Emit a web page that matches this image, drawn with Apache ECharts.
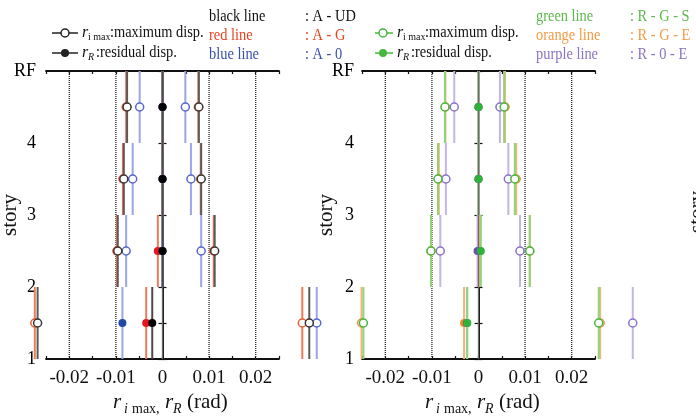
<!DOCTYPE html>
<html>
<head>
<meta charset="utf-8">
<script src="https://cdn.jsdelivr.net/npm/echarts@6/dist/echarts.min.js"></script>
<style>
html, body { margin: 0; padding: 0; background: #fff; }
#chart { width: 696px; height: 419px; }
</style>
</head>
<body>
<div id="chart"></div>
<script>
// each mark spans one story: floor -> floor + 1, marker at mid height
const storyFloors = [1, 2, 3, 4];
const storyLabels = { 1: '1', 2: '2', 3: '3', 4: '4', 5: 'RF' };
const gridXs = [-0.02, -0.01, 0.01, 0.02];
const zeroX = [0];

// left panel: A-UD (black), A-G (red), A-0 (blue)
const audMin = [-0.0268, -0.0096, -0.0083, -0.0076];
const audMax = [0.0315, 0.0112, 0.0083, 0.0078];
const audRes = [-0.0022, 0, 0, 0];
const agMin = [-0.0274, -0.0098, -0.0085, -0.0078];
const agMax = [0.0300, 0.0110, 0.0082, 0.0077];
const agRes = [-0.0035, -0.0010, 0, 0];
const a0Min = [null, -0.0078, -0.0064, -0.0049];
const a0Max = [0.0331, 0.0083, 0.0061, 0.0049];
const a0Res = [-0.0086, 0, 0, 0];

// right panel: R-G-S (green), R-G-E (orange), R-0-E (purple)
const rgsMin = [-0.0247, -0.0102, -0.0087, -0.0072];
const rgsMax = [0.0258, 0.0110, 0.0078, 0.0055];
const rgsRes = [-0.0024, 0.0005, 0, 0];
const rgeMin = [-0.0251, -0.0102, -0.0085, -0.0071];
const rgeMax = [0.0261, 0.0110, 0.0081, 0.0057];
const rgeRes = [-0.0031, 0.0003, 0, 0];
const r0eMin = [null, -0.0082, -0.0070, -0.0052];
const r0eMax = [0.0331, 0.0089, 0.0064, 0.0046];
const r0eRes = [-0.0025, -0.0002, 0, 0];

const FONT = '"Liberation Serif", "DejaVu Serif", serif';
const INK = '#111';

// two series per set: the story-long vertical lines, then the markers above them
function stick(g, xs, kind, lineColor, markColor, z) {
  const data = [];
  xs.forEach(function (v, i) { if (v != null) data.push([v, storyFloors[i]]); });
  const common = { type: 'custom', xAxisIndex: g * 2, yAxisIndex: g * 2, data: data, clip: false, silent: true };
  return [
    Object.assign({}, common, {
      z: z,
      renderItem: function (params, api) {
        const x = api.value(0), s = api.value(1);
        const p0 = api.coord([x, s]), p1 = api.coord([x, s + 1]);
        return { type: 'line', shape: { x1: p0[0], y1: p0[1], x2: p1[0], y2: p1[1] },
          style: { stroke: lineColor, lineWidth: 2 } };
      }
    }),
    Object.assign({}, common, {
      z: z + 10,
      renderItem: function (params, api) {
        const pm = api.coord([api.value(0), api.value(1) + 0.5]);
        return { type: 'circle', shape: { cx: pm[0], cy: pm[1], r: 4 },
          style: kind === 'open' ? { fill: '#fff', stroke: markColor, lineWidth: 1.5 } : { fill: markColor } };
      }
    })
  ];
}

function vlines(g, xs, style, z) {
  return {
    type: 'custom', xAxisIndex: g * 2, yAxisIndex: g * 2,
    data: xs.map(function (v) { return [v]; }), silent: true, z: z,
    renderItem: function (params, api) {
      const x = api.value(0);
      const p0 = api.coord([x, 1]), p1 = api.coord([x, 5]);
      return { type: 'line', shape: { x1: p0[0], y1: p0[1], x2: p1[0], y2: p1[1] }, style: style };
    }
  };
}

function xAxes(g) {
  const base = {
    gridIndex: g, type: 'value', min: -0.025, max: 0.025, interval: 0.005,
    axisLine: { show: true, lineStyle: { color: INK, width: 1.8 } },
    axisTick: { show: true, inside: true, length: 3, lineStyle: { color: INK, width: 1.2 } },
    splitLine: { show: false }
  };
  return [
    Object.assign({}, base, {
      position: 'bottom',
      axisLabel: {
        fontSize: 19, fontFamily: FONT, color: INK, margin: 10,
        formatter: function (v) {
          const k = Math.round(v * 200);
          if (k % 2 !== 0) return '';
          return k === 0 ? '0' : (k / 200).toFixed(2);
        }
      }
    }),
    Object.assign({}, base, { position: 'top', axisLabel: { show: false } })
  ];
}

function yAxes(g, margin) {
  const base = {
    gridIndex: g, type: 'value', min: 1, max: 5, interval: 0.5,
    axisLine: { show: true, lineStyle: { color: INK, width: 1.8 } },
    axisTick: { show: true, inside: true, length: 4, lineStyle: { color: INK, width: 1.2 } },
    splitLine: { show: false }
  };
  return [
    Object.assign({}, base, {
      position: 'left',
      name: 'story', nameLocation: 'middle', nameGap: 25, nameMoveOverlap: false,
      nameTextStyle: { fontSize: 21, fontFamily: FONT, color: INK },
      axisLabel: {
        fontSize: 18, fontFamily: FONT, color: '#000', margin: margin,
        formatter: function (v) { return Number.isInteger(v) ? storyLabels[v] : ''; }
      }
    }),
    Object.assign({}, base, { position: 'right', axisLabel: { show: false } })
  ];
}

const gridStyle = { stroke: '#222', lineWidth: 1.3, lineDash: [1, 1] };
const zeroStyle = { stroke: '#6a6a6a', lineWidth: 1.3 };

function txt(x, y, text, size, color, opts) {
  opts = opts || {};
  return {
    type: 'text', x: x, y: y, scaleX: opts.scaleX || 1, rotation: opts.rotation || 0,
    style: {
      text: text, fill: color, align: opts.align || 'left', verticalAlign: 'middle',
      font: (opts.italic ? 'italic ' : '') + size + 'px ' + FONT
    }
  };
}

function legendKey(x1, x2, cx, y, color, open) {
  return [
    { type: 'line', shape: { x1: x1, y1: y, x2: x2, y2: y }, style: { stroke: color, lineWidth: 1.5 } },
    { type: 'circle', shape: { cx: cx, cy: y, r: 4 },
      style: open ? { fill: '#fff', stroke: color, lineWidth: 1.5 } : { fill: color } }
  ];
}

const SX = 0.9;
function legendBlock(dx, x1, x2, cx, color) {
  const tx = 82 + dx;
  return [].concat(
    legendKey(x1, x2, cx, 33, color, true),
    legendKey(x1, x2, cx, 53, color, false),
    [
      txt(tx, 33, 'r', 16, INK, { italic: true }),
      txt(tx + 6, 37, 'i max', 10, INK),
      txt(tx + 28, 33, ':maximum disp.', 16, INK, { scaleX: SX }),
      txt(tx, 53, 'r', 16, INK, { italic: true }),
      txt(tx + 6, 57, 'R', 10, INK, { italic: true }),
      txt(tx + 14, 53, ':residual disp.', 16, INK, { scaleX: SX })
    ]
  );
}

function caseLegend(x, xc, rows) {
  const out = [];
  rows.forEach(function (r, i) {
    const y = 17 + i * 19;
    out.push(txt(x, y, r[0], 16, r[2], { scaleX: SX }));
    out.push(txt(xc, y, r[1], 16, r[2], { scaleX: SX }));
  });
  return out;
}

function xTitle(dx) {
  return [
    txt(113 + dx, 402, 'r', 21, INK, { italic: true }),
    txt(124 + dx, 409, 'i', 14, INK, { italic: true }),
    txt(132 + dx, 409, 'max,', 14, INK),
    txt(165 + dx, 402, 'r', 21, INK, { italic: true }),
    txt(173 + dx, 409, 'R', 14, INK, { italic: true }),
    txt(187 + dx, 402, '(rad)', 21, INK)
  ];
}

const chart = echarts.init(document.getElementById('chart'));
chart.setOption({
  backgroundColor: '#fff',
  animation: false,
  grid: [
    { left: 46, top: 71, width: 233, height: 288, outerBoundsMode: 'none', containLabel: false },
    { left: 362, top: 71, width: 233, height: 288, outerBoundsMode: 'none', containLabel: false }
  ],
  xAxis: xAxes(0).concat(xAxes(1)),
  yAxis: yAxes(0, 10).concat(yAxes(1, 8)),
  series: [].concat(
    vlines(0, gridXs, gridStyle, 1),
    vlines(0, zeroX, zeroStyle, 1),
    vlines(1, gridXs, gridStyle, 1),
    vlines(1, zeroX, zeroStyle, 9),

    stick(0, agMin, 'open', '#f07a58', '#f05a30', 3),
    stick(0, agMax, 'open', '#f07a58', '#f05a30', 3),
    stick(0, a0Min, 'open', '#9aa6e2', '#5566cc', 4),
    stick(0, a0Max, 'open', '#9aa6e2', '#5566cc', 4),
    stick(0, audMin, 'open', '#5a5a5a', '#333', 5),
    stick(0, audMax, 'open', '#5a5a5a', '#333', 5),
    stick(0, agRes, 'fill', '#f07a58', '#e8141c', 6),
    stick(0, a0Res, 'fill', '#9aa6e2', '#1f48a8', 7),
    stick(0, audRes, 'fill', '#4a4a4a', '#000', 8),

    stick(1, rgeMin, 'open', '#f7b477', '#f3903a', 3),
    stick(1, rgeMax, 'open', '#f7b477', '#f3903a', 3),
    stick(1, r0eMin, 'open', '#c3b5e6', '#8b70cc', 4),
    stick(1, r0eMax, 'open', '#c3b5e6', '#8b70cc', 4),
    stick(1, rgsMin, 'open', '#8fd478', '#44b83c', 5),
    stick(1, rgsMax, 'open', '#8fd478', '#44b83c', 5),
    stick(1, rgeRes, 'fill', '#f7b477', '#f08a24', 6),
    stick(1, r0eRes, 'fill', '#c3b5e6', '#6a4fb0', 7),
    stick(1, rgsRes, 'fill', '#8fd478', '#2db33a', 8)
  ),
  graphic: [].concat(
    legendBlock(0, 52, 78, 65, '#222'),
    legendBlock(315, 375, 393, 383, '#44b83c'),
    caseLegend(209, 305, [
      ['black line', ': A - UD', INK],
      ['red line', ': A - G', '#e8431f'],
      ['blue line', ': A - 0', '#3a4fb0']
    ]),
    caseLegend(536, 630, [
      ['green line', ': R - G - S', '#5cb84a'],
      ['orange line', ': R - G - E', '#f39a44'],
      ['purple line', ': R - 0 - E', '#8b73c3']
    ]),
    xTitle(0),
    xTitle(312),
    [txt(697, 212, 'story', 21, INK, { rotation: Math.PI / 2, align: 'center' })]
  )
});
</script>
</body>
</html>
